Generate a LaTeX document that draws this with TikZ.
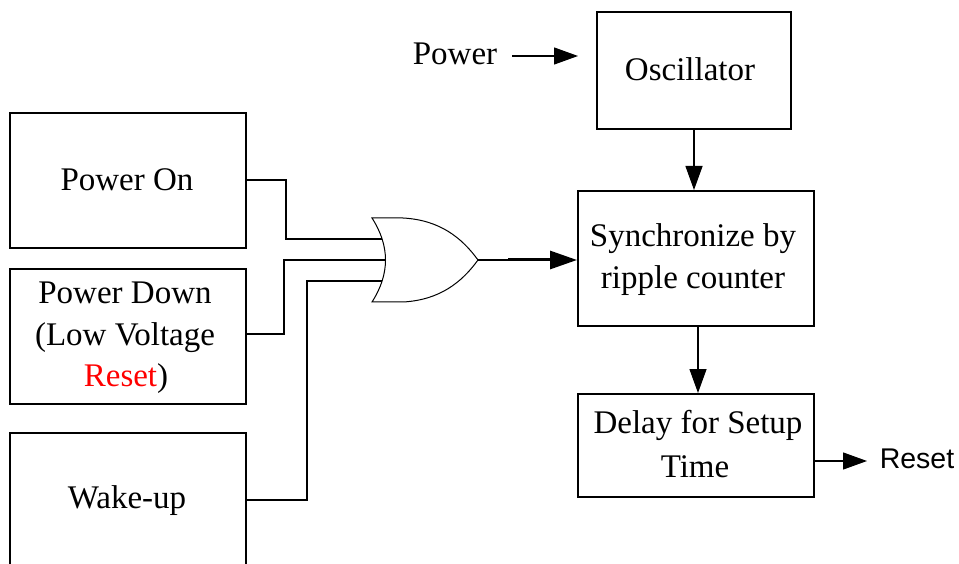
\documentclass[tikz,border=0pt]{standalone}
\usepackage{fontspec}
\setmainfont{Liberation Serif}
\newfontfamily\arialfont{Liberation Sans}
\usetikzlibrary{arrows.meta}
\begin{document}
\begin{tikzpicture}[x=1pt,y=-1pt,
  blockbox/.style={draw,line width=1.6pt,rectangle,inner sep=0pt,anchor=north west},
  txt/.style={inner sep=0pt,anchor=base,font=\fontsize{33}{40}\selectfont},
  wire/.style={line width=1.3pt},
  gateline/.style={line width=1pt},
  arr/.style={line width=1.3pt,-{Triangle[length=24pt,width=17pt]}},
  thickarr/.style={line width=3pt,-{Triangle[length=27pt,width=18pt]}}]
\useasboundingbox (0,0) rectangle (959,564);
% boxes
\node[blockbox,minimum width=236pt,minimum height=135pt] (pon) at (9,112) {};
\node[blockbox,minimum width=236pt,minimum height=135pt] (pdown) at (9,268) {};
\node[blockbox,minimum width=236pt,minimum height=136pt] (wake) at (9,432) {};
\node[blockbox,minimum width=194pt,minimum height=117pt] (osc) at (596,11) {};
\node[blockbox,minimum width=236pt,minimum height=135pt] (sync) at (577,190) {};
\node[blockbox,minimum width=236pt,minimum height=103pt] (delay) at (577,393) {};
% texts
\node[txt] (tpon) at (127,191) {Power On};
\node[txt] (tpd1) at (125,303) {Power Down};
\node[txt] (tpd2) at (125,345) {(Low Voltage};
\node[txt] (tpd3) at (126,386) {\textcolor{red}{Reset})};
\node[txt] (twake) at (127,508) {Wake-up};
\node[txt] (tosc) at (690,81) {Oscillator};
\node[txt] (tpower) at (455,65) {Power};
\node[txt] (tsync1) at (693,247) {Synchronize by};
\node[txt] (tsync2) at (693,288) {ripple counter};
\node[txt] (tdel1) at (698,433) {Delay for Setup};
\node[txt] (tdel2) at (695,477) {Time};
\node[inner sep=0pt,anchor=base,font=\arialfont\fontsize{28.5}{34}\selectfont] (treset) at (917,468) {Reset};
% OR gate
\coordinate (in1) at (382.1,239);
\coordinate (in2) at (385.5,260);
\coordinate (in3) at (382.1,281);
\coordinate (gout) at (478,260);
\coordinate (gmid) at (508,260);
\draw[gateline,line join=miter] (372,218) .. controls (390,246) and (390,274) .. (372,302)
  -- (403,302) .. controls (440,300) and (462,282) .. (gout)
  .. controls (462,238) and (440,220) .. (403,218) -- cycle;
% wires
\draw[wire] (pon.east |- 0,180) -| (286,239) -- (in1);
\draw[wire] (pdown.east |- 0,334) -| (284,260) -- (in2);
\draw[wire] (wake.east |- 0,500) -| (307,281) -- (in3);
\draw[line width=1.3pt] (gout) -- (gmid);
\draw[thickarr] (gmid) -- (sync.west |- gout);
% arrows
\coordinate (pwstart) at (512,56);
\coordinate (pwend) at (578,56);
\draw[arr] (pwstart) -- (pwend);
\draw[arr] (osc.south -| 694,0) -- (sync.north -| 694,0);
\draw[arr] (sync.south -| 698,0) -- (delay.north -| 698,0);
\coordinate (rstend) at (867,461);
\draw[arr] (delay.east |- rstend) -- (rstend);
\end{tikzpicture}
\end{document}
